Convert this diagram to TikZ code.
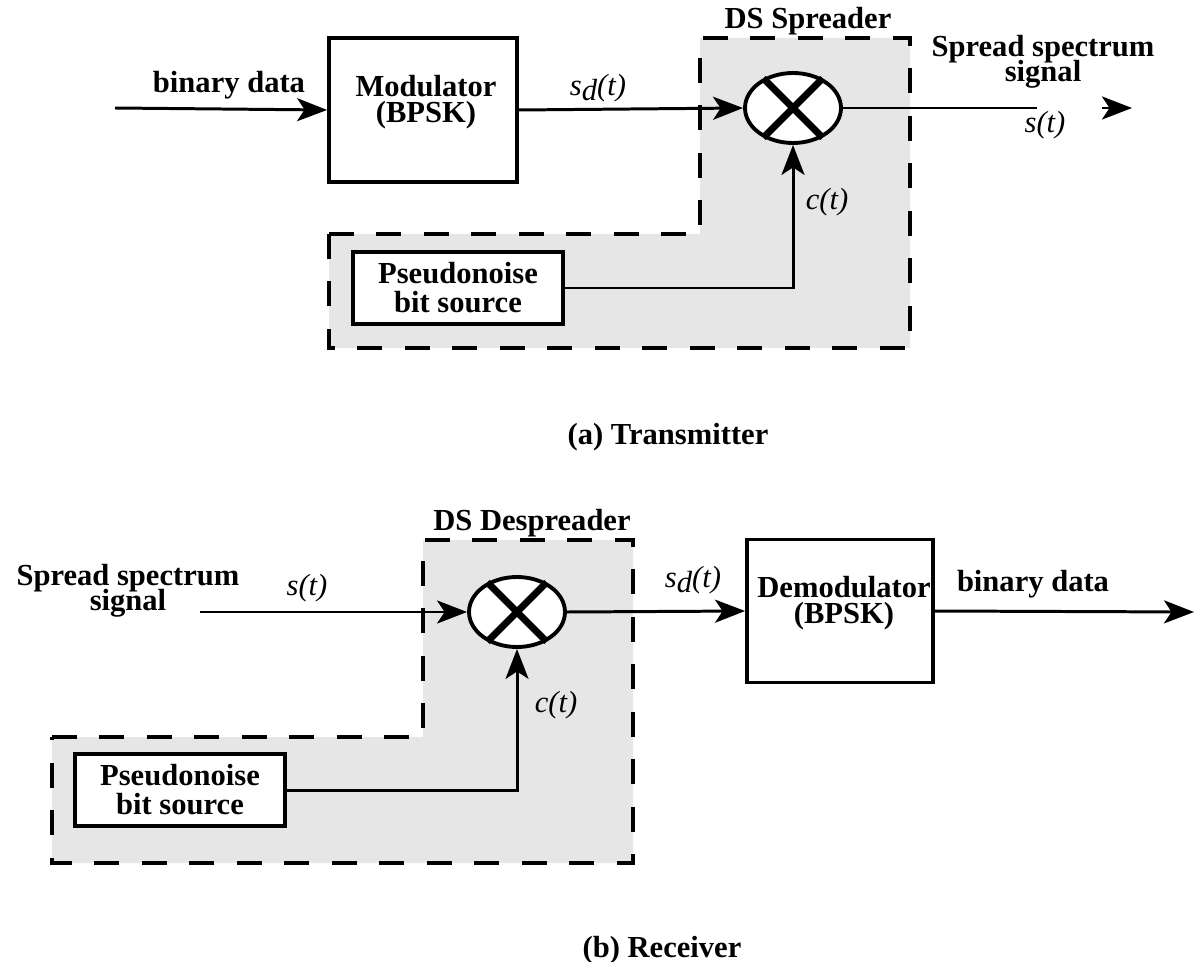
\documentclass[tikz,border=0pt]{standalone}
\usepackage{fontspec}
\setmainfont{Liberation Serif}
\usetikzlibrary{arrows.meta,positioning,shapes.geometric}
\definecolor{zone}{HTML}{E6E6E6}
\newcommand{\lblfont}{\bfseries\fontsize{17.4}{14.5}\selectfont\lineskiplimit=-20pt}
\newcommand{\pnfont}{\bfseries\fontsize{17.4}{16.5}\selectfont\lineskiplimit=-20pt}
\newcommand{\sigfont}{\itshape\fontsize{17.4}{20}\selectfont}
\newcommand{\sdt}{s\raisebox{-0.4ex}{d}(t)}
\tikzset{
  block/.style={draw,line width=2.2pt,fill=white,minimum width=3.76cm,minimum height=2.88cm,inner sep=0pt},
  pnbox/.style={draw,line width=2.2pt,fill=white,minimum width=4.2cm,minimum height=1.44cm,
                align=center,font=\pnfont,inner sep=0pt},
  mixer/.style={ellipse,draw,line width=2.2pt,fill=white,minimum width=1.92cm,minimum height=1.4cm,inner sep=0pt},
  cross/.style={line width=4pt},
  flow/.style={-{Stealth[length=0.6cm,width=0.46cm,inset=0.15cm]},line width=1.7pt},
  wire/.style={line width=1.7pt},
  zonebox/.style={fill=zone,draw,line width=2.3pt,dash pattern=on 0.5cm off 0.45cm},
  lbl/.style={font=\lblfont,align=center,inner sep=0pt},
  sig/.style={font=\sigfont,inner sep=0pt},
}
\begin{document}
\begin{tikzpicture}[x=0.02cm,y=-0.02cm]
  \useasboundingbox (0,0) rectangle (1195,962);
  % transmitter
  \draw[zonebox] (329,234) -- (700,234) -- (700,38) -- (910,38) -- (910,348) -- (329,348) -- cycle;
  \node[block] (mod) at (423,110) {};
  \node[lbl] (modtxt) at (426,102) {Modulator\\(BPSK)};
  \node[pnbox] (pn) at (458,288) {Pseudonoise\\bit source};
  \node[mixer] (mix) at (793,108) {};
  \draw[cross] (mix.45) -- (mix.225) (mix.135) -- (mix.315);
  \coordinate (din) at (115,108);
  \coordinate (sout) at (1037,108);
  \coordinate (tipa) at (1102,108);
  \coordinate (tipb) at (1132,108);
  \node[lbl] (bdin) at (229,85) {binary data};
  \node[sig] (sdtx) at (598,88) {\sdt};
  \node[lbl] (spr) at (808,21) {DS Spreader};
  \node[sig] (ctx) at (827,202) {c(t)};
  \node[sig] (stx) at (1045,125) {s(t)};
  \node[lbl] (sstx) at (1043,62) {Spread spectrum\\signal};
  \node[lbl] (capa) at (668,437) {(a) Transmitter};
  \draw[flow] (din) -- (mod.west);
  \draw[flow] (mod.east) -- (mix.west);
  \draw[flow] (pn.east) -| (mix.south);
  \draw[wire] (mix.east) -- (sout);
  \draw[flow] (tipa) -- (tipb);
  % receiver
  \draw[zonebox] (52,737) -- (423,737) -- (423,540) -- (633,540) -- (633,863) -- (52,863) -- cycle;
  \node[pnbox] (pn2) at (180,790) {Pseudonoise\\bit source};
  \node[mixer] (mix2) at (517,612) {};
  \draw[cross] (mix2.45) -- (mix2.225) (mix2.135) -- (mix2.315);
  \node[block,minimum width=3.72cm,minimum height=2.86cm] (demod) at (840,611) {};
  \node[lbl] (demtxt) at (844,603) {Demodulator\\(BPSK)};
  \coordinate (sin) at (200,612);
  \coordinate (dout) at (1194,612);
  \node[lbl] (ssrx) at (128,591) {Spread spectrum\\signal};
  \node[sig] (strx) at (307,588) {s(t)};
  \node[lbl] (dspr) at (532,523) {DS Despreader};
  \node[sig] (ctrx) at (556,705) {c(t)};
  \node[sig] (sdrx) at (693,580) {\sdt};
  \node[lbl] (bdout) at (1033,584) {binary data};
  \node[lbl] (capb) at (662,950) {(b) Receiver};
  \draw[flow] (sin) -- (mix2.west);
  \draw[flow] (pn2.east) -| (mix2.south);
  \draw[flow] (mix2.east) -- (demod.west);
  \draw[flow] (demod.east) -- (dout);
\end{tikzpicture}
\end{document}
